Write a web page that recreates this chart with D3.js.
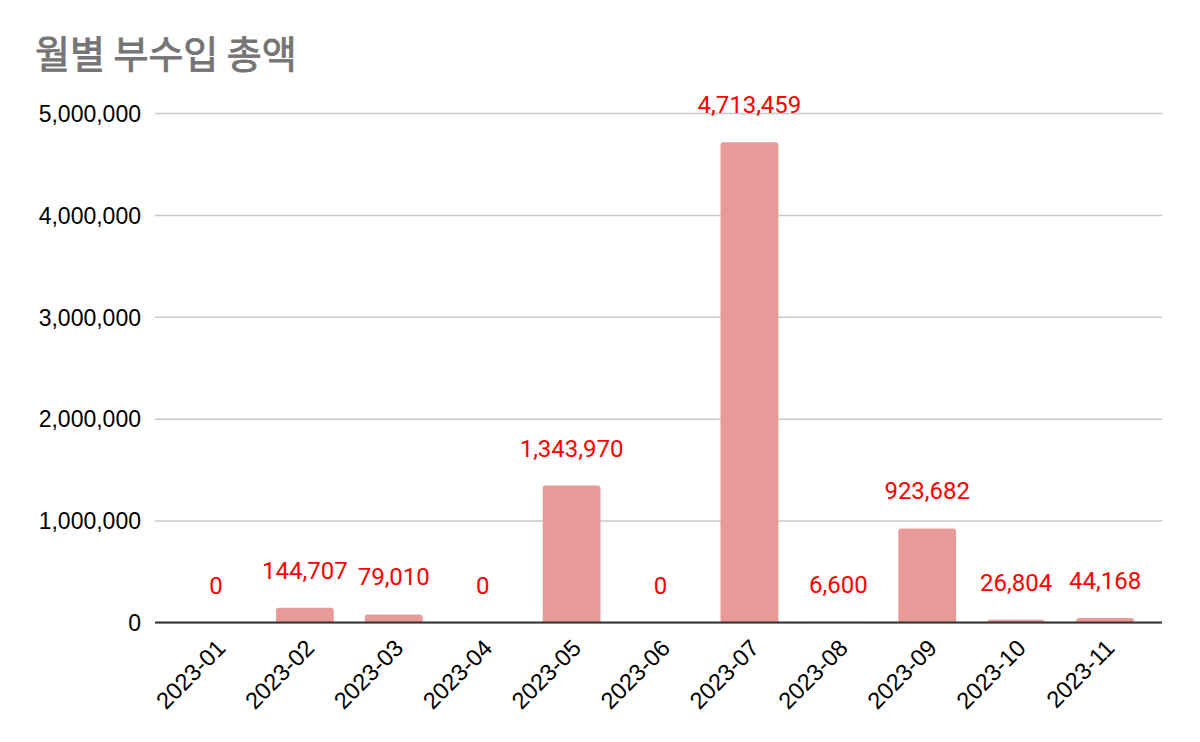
<!DOCTYPE html>
<html>
<head>
<meta charset="utf-8">
<script src="https://cdn.jsdelivr.net/npm/d3@7"></script>
<style>
  body { margin: 0; background: #fff; }
</style>
</head>
<body>
<script>
const width = 1200;
const height = 742;

// data
const months = ['2023-01', '2023-02', '2023-03', '2023-04', '2023-05', '2023-06',
  '2023-07', '2023-08', '2023-09', '2023-10', '2023-11'];
const totals = [0, 144707, 79010, 0, 1343970, 0, 4713459, 6600, 923682, 26804, 44168];
const yTicks = [0, 1000000, 2000000, 3000000, 4000000, 5000000];

const plot = { left: 155, right: 1162, top: 113, bottom: 622.5 };

const svg = d3.select('body').append('svg')
  .attr('width', width)
  .attr('height', height);

// title: regular weight thickened a little with a stroke
svg.append('text')
  .attr('x', 35)
  .attr('y', 68)
  .attr('fill', '#757575')
  .attr('stroke', '#757575')
  .attr('stroke-width', 0.9)
  .attr('font-family', '"Noto Sans CJK KR", sans-serif')
  .attr('font-weight', 400)
  .attr('font-size', 38)
  .text('월별 부수입 총액');

const x = d3.scaleBand()
  .domain(months)
  .range([171.5, 1149.5])
  .paddingInner(0.35)
  .paddingOuter(0.175);

const y = d3.scaleLinear()
  .domain([0, 5000000])
  .range([plot.bottom, plot.top]);

const fmt = d3.format(',');

// gridlines + y labels
const yAxis = svg.append('g')
  .attr('transform', `translate(${plot.left},0)`)
  .call(d3.axisLeft(y).tickValues(yTicks).tickFormat(fmt)
    .tickSize(-(plot.right - plot.left)).tickPadding(14));
yAxis.select('.domain').remove();
yAxis.selectAll('.tick line').attr('stroke', '#c8c8c8').attr('stroke-width', 1.5);
yAxis.selectAll('.tick text')
  .attr('fill', '#000')
  .attr('font-family', '"Liberation Sans", Arial, sans-serif')
  .attr('font-size', 23)
  .attr('dy', '0.36em');

// bars with rounded tops
const r = 3;
svg.append('g').selectAll('path')
  .data(totals)
  .join('path')
  .attr('fill', '#ea9999')
  .attr('d', (d, i) => {
    const x0 = x(months[i]);
    const w = x.bandwidth();
    const y0 = y(d);
    const h = plot.bottom - y0;
    if (h <= 0) return null;
    const rr = Math.min(r, h);
    return `M${x0},${plot.bottom}V${y0 + rr}Q${x0},${y0} ${x0 + rr},${y0}` +
      `H${x0 + w - rr}Q${x0 + w},${y0} ${x0 + w},${y0 + rr}V${plot.bottom}Z`;
  });

// baseline
svg.append('line')
  .attr('x1', plot.left).attr('x2', plot.right)
  .attr('y1', y(0)).attr('y2', y(0))
  .attr('stroke', '#333').attr('stroke-width', 2);

// value labels
svg.append('g').selectAll('text')
  .data(totals)
  .join('text')
  .attr('x', (d, i) => x(months[i]) + x.bandwidth() / 2)
  .attr('y', d => y(d) - 29)
  .attr('text-anchor', 'middle')
  .attr('fill', '#ff0000')
  .attr('font-family', 'Roboto, sans-serif')
  .attr('font-size', 24)
  .text(d => fmt(d));

// x labels, rotated
const xAxis = svg.append('g')
  .attr('transform', `translate(0,${plot.bottom})`)
  .call(d3.axisBottom(x).tickSize(0).tickPadding(0));
xAxis.select('.domain').remove();
xAxis.selectAll('.tick text')
  .attr('fill', '#000')
  .attr('font-family', '"Liberation Sans", Arial, sans-serif')
  .attr('font-size', 23.5)
  .attr('text-anchor', 'end')
  .attr('dy', null)
  .attr('transform', 'translate(11,27) rotate(-45)');
</script>
</body>
</html>
